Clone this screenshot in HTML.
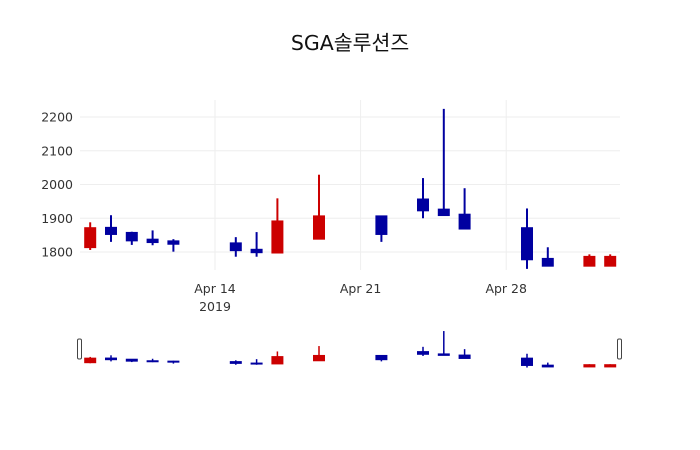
<!DOCTYPE html>
<html><head><meta charset="utf-8">
<style>
body{margin:0;background:#fff;}
svg{display:block;font-family:"DejaVu Sans","Liberation Sans","Noto Sans CJK KR",sans-serif;}
</style></head><body>
<svg id="chart" width="700" height="450" viewBox="0 0 700 450" xmlns="http://www.w3.org/2000/svg">
<rect x="0" y="0" width="700" height="450" fill="#fff"/>
<text x="350" y="50" text-anchor="middle" font-size="20.5" fill="#111">SGA솔루션즈</text>
<g id="grid"></g>
<g id="yticks"></g>
<g id="xticks"></g>
<g id="candles"></g>
<g id="slider"></g>
</svg>
<script>
const dates=["2019-04-08","2019-04-09","2019-04-10","2019-04-11","2019-04-12","2019-04-15","2019-04-16","2019-04-17","2019-04-19","2019-04-22","2019-04-24","2019-04-25","2019-04-26","2019-04-29","2019-04-30","2019-05-02","2019-05-03"];
const opens=[1813,1873,1858,1838,1833,1827,1808,1797,1838,1907,1957,1927,1912,1872,1781,1758,1758];
const highs=[1888,1909,1860,1864,1838,1844,1859,1959,2029,1907,2019,2224,1989,1929,1814,1793,1793];
const lows=[1806,1830,1821,1820,1801,1786,1786,1797,1838,1830,1900,1908,1868,1750,1758,1757,1757];
const closes=[1872,1852,1833,1828,1823,1804,1798,1892,1907,1852,1922,1908,1868,1777,1758,1787,1787];
const yTicks=[1800,1900,2000,2100,2200];
const xTickDates=["2019-04-14","2019-04-21","2019-04-28"];
const xTickLabels=["Apr 14","Apr 21","Apr 28"];

const NS="http://www.w3.org/2000/svg";
const DAY=86400000;
const t0=Date.parse("2019-04-14");
function xs(d){return 215+(Date.parse(d)-t0)/DAY*20.8;}
function ys(v){return 252-(v-1800)*0.3375;}
function ysl(v){return 367-(v-1757)*0.077;}
function mk(tag,attrs,parent){const e=document.createElementNS(NS,tag);for(const k in attrs)e.setAttribute(k,attrs[k]);parent.appendChild(e);return e;}
const grid=document.getElementById('grid'),yt=document.getElementById('yticks'),xt=document.getElementById('xticks'),cg=document.getElementById('candles'),sg=document.getElementById('slider');
yTicks.forEach(v=>{
  const l=mk('line',{x1:80,x2:620,y1:ys(v),y2:ys(v),stroke:'#eee','stroke-width':1},grid);
  
  
  const t=mk('text',{x:73,y:ys(v)+4.5,'text-anchor':'end','font-size':12.5,fill:'#333'},yt);
  t.textContent=v;
  
  
});
xTickDates.forEach((d,i)=>{
  const l=mk('line',{x1:xs(d),x2:xs(d),y1:100,y2:270,stroke:'#eee','stroke-width':1},grid);
  
  
  const t=mk('text',{x:xs(d),y:293,'text-anchor':'middle','font-size':12.5,fill:'#333'},xt);
  t.textContent=xTickLabels[i];
  
  
});
const yr=mk('text',{x:xs(xTickDates[0]),y:311,'text-anchor':'middle','font-size':12.5,fill:'#333'},xt);
yr.textContent="2019";



function drawCandle(i,yf,parent,w,lw,name){
  const up=closes[i]>=opens[i];
  const col=up?'#cc0000':'#0000a0';
  const x=xs(dates[i]);
  const g=mk('g',{},parent);
  
  
  mk('line',{x1:x,x2:x,y1:yf(highs[i]),y2:yf(lows[i]),stroke:col,'stroke-width':lw},g);
  const top=yf(Math.max(opens[i],closes[i])),bot=yf(Math.min(opens[i],closes[i]));
  mk('rect',{x:x-w/2,y:top,width:w,height:Math.max(bot-top,1),fill:col,stroke:col,'stroke-width':1},g);
}
dates.forEach((d,i)=>drawCandle(i,ys,cg,11,2,'candle'));
dates.forEach((d,i)=>drawCandle(i,ysl,sg,11,1.5,'slider-candle'));
[80,620].forEach((x,i)=>{
  const h=mk('rect',{x:x-2.5,y:339,width:4,height:20,rx:1.5,fill:'#fff',stroke:'#444','stroke-width':1},sg);
  
  
});
</script>
</body></html>
